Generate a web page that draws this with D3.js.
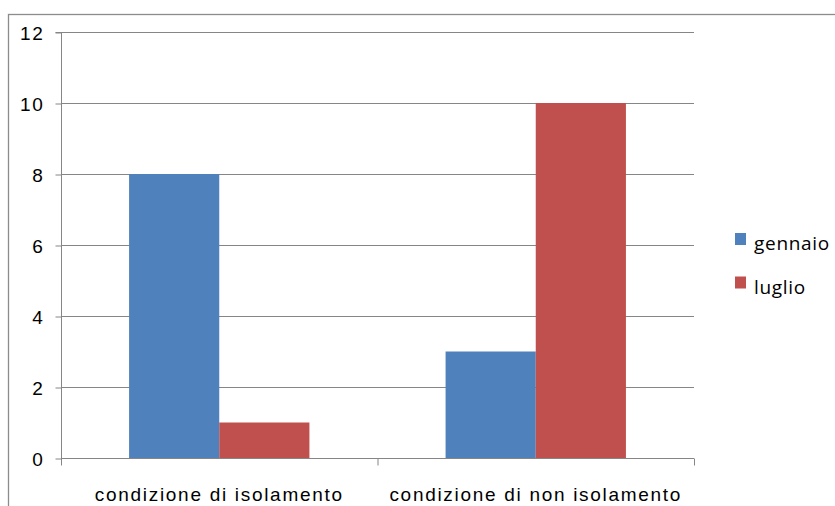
<!DOCTYPE html>
<html>
<head>
<meta charset="utf-8">
<script src="https://cdn.jsdelivr.net/npm/d3@7"></script>
<style>
  html, body { margin: 0; padding: 0; background: #fff; }
  svg { display: block; font-family: "Open Sans", "Lato", sans-serif; }
  .lbl { font-size: 19px; letter-spacing: 1.7px; fill: #000; }
  .leg { font-size: 19px; letter-spacing: 0.7px; fill: #000; }
</style>
</head>
<body>
<svg id="chart" width="835" height="506"></svg>
<script>
// Chart data
const categories = ["condizione di isolamento", "condizione di non isolamento"];
const seriesNames = ["gennaio", "luglio"];
const gennaio = [8, 3];
const luglio = [1, 10];
const yTicks = [0, 2, 4, 6, 8, 10, 12];
const colors = ["#4F81BD", "#C0504D"];

const seriesValues = [gennaio, luglio];
const rows = categories.map((c, i) => ({
  category: c,
  values: seriesNames.map((s, j) => ({ series: s, value: seriesValues[j][i], color: colors[j] }))
}));

const svg = d3.select("#chart");

// Outer chart frame
svg.append("rect")
  .attr("x", 8.5).attr("y", 14.5)
  .attr("width", 840).attr("height", 520)
  .attr("fill", "none").attr("stroke", "#8c8c8c").attr("stroke-width", 1.3);

const plot = { left: 61, right: 694, top: 32, bottom: 458 };

const y = d3.scaleLinear().domain([0, 12]).range([plot.bottom, plot.top]);
const x0 = d3.scaleBand().domain(categories).range([plot.left, plot.right]).paddingInner(0).paddingOuter(0);
const x1 = d3.scaleBand().domain(seriesNames).range([0, x0.bandwidth()]).paddingInner(0).paddingOuter(0.755);

const g = svg.append("g");

// Horizontal gridlines
g.selectAll("line.grid").data(yTicks.filter(t => t > 0)).join("line")
  .attr("class", "grid")
  .attr("x1", plot.left).attr("x2", plot.right)
  .attr("y1", d => Math.round(y(d)) + 0.5).attr("y2", d => Math.round(y(d)) + 0.5)
  .attr("stroke", "#868686").attr("stroke-width", 1);

// Bars
const groups = g.selectAll("g.cat").data(rows).join("g")
  .attr("class", "cat")
  .attr("transform", d => `translate(${x0(d.category)},0)`);

groups.selectAll("rect").data(d => d.values).join("rect")
  .attr("x", d => x1(d.series))
  .attr("width", x1.bandwidth())
  .attr("y", d => y(d.value))
  .attr("height", d => y(0) - y(d.value))
  .attr("fill", d => d.color);

// Y axis
const yAxis = d3.axisLeft(y).tickValues(yTicks).tickSize(6).tickPadding(11).tickFormat(d3.format("d"));
const ya = svg.append("g").attr("transform", `translate(${plot.left + 0.5},0.5)`).call(yAxis);
ya.select(".domain").attr("stroke", "#868686").attr("d", `M-6,${plot.top}H0V${plot.bottom}`);
ya.selectAll(".tick line").attr("stroke", "#868686");
ya.selectAll(".tick text").attr("class", "lbl").attr("font-size", null).attr("font-family", null)
  .attr("dy", "0.36em");

// X axis
const xAxis = d3.axisBottom(x0).tickSize(0).tickPadding(0);
const xa = svg.append("g").attr("transform", `translate(0,${plot.bottom + 0.5})`).call(xAxis);
xa.select(".domain").attr("stroke", "#868686").attr("d", `M${plot.left},0H${plot.right}`);
xa.selectAll(".tick line").remove();
xa.selectAll(".tick text").attr("class", "lbl").attr("font-size", null).attr("font-family", null)
  .attr("dy", 0).attr("y", 42);

// Category dividers on x axis
const dividers = [plot.left, ...categories.map(c => x0(c) + x0.bandwidth())];
xa.selectAll("line.div").data(dividers).join("line")
  .attr("class", "div")
  .attr("x1", d => d + 0.5).attr("x2", d => d + 0.5)
  .attr("y1", 0).attr("y2", 7)
  .attr("stroke", "#868686");

// Legend
const legend = svg.append("g").attr("transform", "translate(735,233)");
const li = legend.selectAll("g").data(seriesNames).join("g")
  .attr("transform", (d, i) => `translate(0,${i * 43.5})`);
li.append("rect").attr("width", 11).attr("height", 12).attr("fill", (d, i) => colors[i]);
li.append("text").attr("class", "leg").attr("x", 19).attr("y", 17).text(d => d);
</script>
</body>
</html>
